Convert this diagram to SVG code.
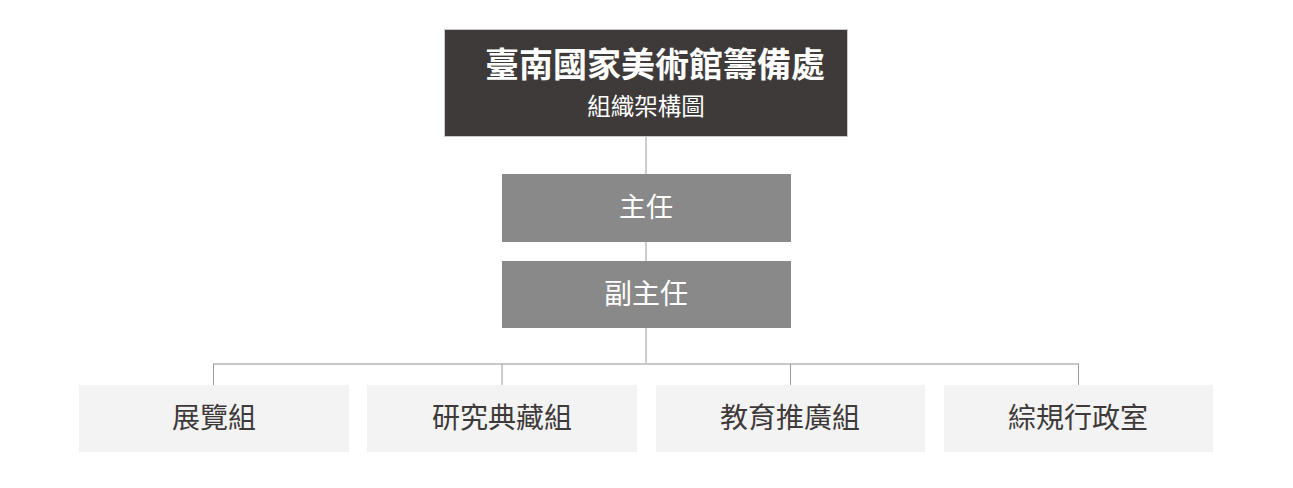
<svg xmlns="http://www.w3.org/2000/svg" width="1293" height="488" viewBox="0 0 1293 488">
<style>
text{font-family:"Noto Sans CJK TC","Noto Sans CJK SC",sans-serif;text-anchor:middle}
.top{fill:#3e3a39;stroke:#c9c9c9;stroke-width:1}
.mid{fill:#898989}
.low{fill:#f3f3f3}
.wt{fill:#ffffff}
.dt{fill:#3e3a39;font-size:28px}
.v{stroke:#9a9a9a;stroke-width:1;fill:none}
.h{stroke:#c8c8c8;stroke-width:2;fill:none}
</style>
<rect width="1293" height="488" fill="#ffffff"/>
<g id="connectors">
<line class="v" x1="646" y1="137" x2="646" y2="174"/>
<line class="v" x1="646" y1="242" x2="646" y2="261"/>
<line class="v" x1="646" y1="328" x2="646" y2="364"/>
<line class="h" x1="213" y1="364" x2="1079" y2="364"/>
<line class="v" x1="213.5" y1="364" x2="213.5" y2="385"/>
<line class="v" x1="502" y1="364" x2="502" y2="385"/>
<line class="v" x1="790.5" y1="364" x2="790.5" y2="385"/>
<line class="v" x1="1078.5" y1="364" x2="1078.5" y2="385"/>
</g>
<g id="node-title">
<rect class="top" x="444.5" y="29.5" width="403" height="107"/>
<text class="wt" x="655" y="77" font-size="34" font-weight="bold">臺南國家美術館籌備處</text>
<text class="wt" x="646" y="115" font-size="23.5">組織架構圖</text>
</g>
<g id="node-director">
<rect class="mid" x="502" y="174" width="289" height="68"/>
<text class="wt" x="646" y="217" font-size="27">主任</text>
</g>
<g id="node-deputy">
<rect class="mid" x="502" y="261" width="289" height="67"/>
<text class="wt" x="646" y="304" font-size="28">副主任</text>
</g>
<g id="node-exhibition">
<rect class="low" x="79" y="385" width="270" height="67"/>
<text class="dt" x="214" y="428">展覽組</text>
</g>
<g id="node-research">
<rect class="low" x="367" y="385" width="270" height="67"/>
<text class="dt" x="502" y="428">研究典藏組</text>
</g>
<g id="node-education">
<rect class="low" x="656" y="385" width="269" height="67"/>
<text class="dt" x="790" y="428">教育推廣組</text>
</g>
<g id="node-admin">
<rect class="low" x="944" y="385" width="269" height="67"/>
<text class="dt" x="1078" y="428">綜規行政室</text>
</g>
</svg>
